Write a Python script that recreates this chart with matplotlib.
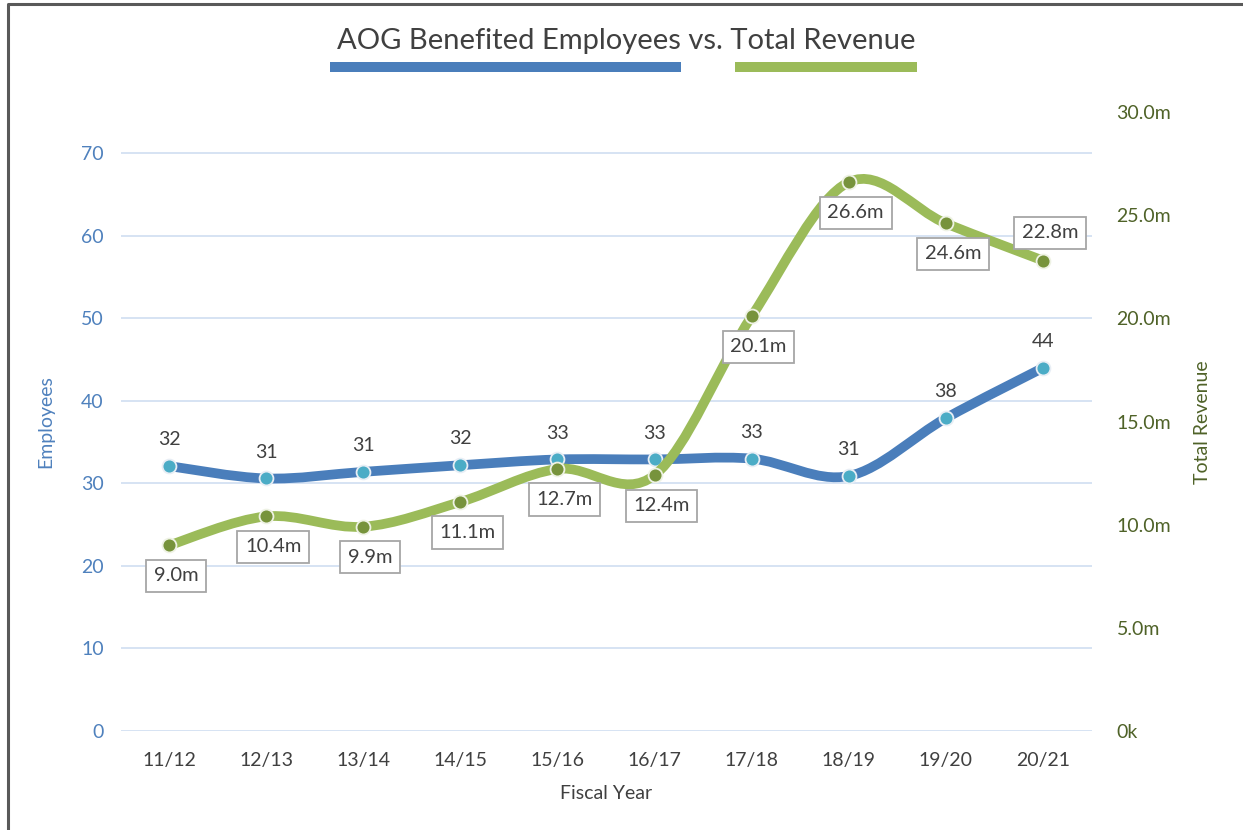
import numpy as np
import matplotlib
matplotlib.use('Agg')
import matplotlib.pyplot as plt
from matplotlib.path import Path
from matplotlib.patches import PathPatch, Rectangle
from matplotlib.lines import Line2D
from matplotlib.ticker import FuncFormatter

plt.rcParams['font.family'] = ['Lato', 'DejaVu Sans']

years = ['11/12', '12/13', '13/14', '14/15', '15/16', '16/17', '17/18', '18/19', '19/20', '20/21']
employees = [32.1, 30.6, 31.4, 32.2, 32.9, 32.9, 33.0, 30.9, 37.9, 44.0]
revenue = [9.0, 10.4, 9.9, 11.1, 12.7, 12.4, 20.1, 26.6, 24.6, 22.8]
# where each revenue label sits relative to its point
rev_label_side = ['below', 'below', 'below', 'below', 'below', 'below', 'below', 'below', 'below', 'above']

blue = '#4a7ebb'
blue_marker = '#4bacc6'
green = '#9bbb59'
green_marker = '#77933c'
text_grey = '#404040'
left_col = '#4f81bd'
right_col = '#4f6228'


def smooth_path(xs, ys):
    # excel style smoothed line: bezier segments with catmull-rom control points
    pts = np.column_stack([xs, ys]).astype(float)
    n = len(pts)
    verts = [pts[0]]
    codes = [Path.MOVETO]
    for i in range(n - 1):
        p0 = pts[i - 1] if i > 0 else pts[i]
        p1 = pts[i]
        p2 = pts[i + 1]
        p3 = pts[i + 2] if i + 2 < n else pts[i + 1]
        verts += [p1 + (p2 - p0) / 6, p2 - (p3 - p1) / 6, p2]
        codes += [Path.CURVE4] * 3
    return Path(verts, codes)


fig = plt.figure(figsize=(12.43, 8.3), dpi=100)
ax = fig.add_axes([120.5 / 1243, 99 / 830, 971 / 1243, 619 / 830])
ax2 = ax.twinx()

x = np.arange(len(years))

# employees (left axis)
ax.add_patch(PathPatch(smooth_path(x, employees), facecolor='none', edgecolor=blue,
                       lw=7, capstyle='round', joinstyle='round', zorder=3))
ax.plot(x, employees, 'o', ms=10, mfc=blue_marker, mec='#e8eef5', mew=1.3, zorder=4)
for xi, v in zip(x, employees):
    ax.annotate(f'{v:.0f}', (xi, v), xytext=(0, 19), textcoords='offset points',
                ha='center', va='center', fontsize=14, color=text_grey, zorder=5)

# revenue (right axis)
ax2.add_patch(PathPatch(smooth_path(x, revenue), facecolor='none', edgecolor=green,
                        lw=7, capstyle='round', joinstyle='round', zorder=3))
ax2.plot(x, revenue, 'o', ms=10, mfc=green_marker, mec='#eef2e4', mew=1.3, zorder=4)
for xi, v, side in zip(x, revenue, rev_label_side):
    dy = -22 if side == 'below' else 20
    ax2.annotate(f'{v:.1f}m', (xi, v), xytext=(5, dy), textcoords='offset points',
                 ha='center', va='center', fontsize=14.5, color=text_grey, zorder=6,
                 bbox=dict(boxstyle='square,pad=0.38', fc='white', ec='#a6a6a6', lw=1.3))

ax.set_xlim(-0.5, len(years) - 0.5)
ax.set_ylim(0, 75)
ax.set_yticks(range(0, 71, 10))
ax2.set_ylim(0, 30)
ax2.set_yticks(np.arange(0, 31, 5))
ax2.yaxis.set_major_formatter(FuncFormatter(lambda v, p: '0k' if v == 0 else f'{v:.1f}m'))
ax.set_xticks(x)
ax.set_xticklabels(years)

ax.yaxis.grid(True, color='#d6e3f3', lw=1.4)
ax.set_axisbelow(True)
for a in (ax, ax2):
    for s in a.spines.values():
        s.set_visible(False)
ax.tick_params(axis='y', length=0, pad=12, labelsize=14, labelcolor=left_col)
ax.tick_params(axis='x', length=0, pad=15, labelsize=14, labelcolor=text_grey)
ax2.tick_params(axis='y', length=0, pad=18, labelsize=14, labelcolor=right_col)

fig.text(46 / 1243, 1 - 422 / 830, 'Employees', rotation=90, ha='center', va='center',
         fontsize=14, color=left_col)
fig.text(1202 / 1243, 1 - 422 / 830, 'Total Revenue', rotation=90, ha='center', va='center',
         fontsize=14, color=right_col)
fig.text(606 / 1243, 1 - 793 / 830, 'Fiscal Year', ha='center', va='center',
         fontsize=14, color=text_grey)

# title and the coloured bars under it
fig.text(626 / 1243, 1 - 41 / 830, 'AOG Benefited Employees vs. Total Revenue',
         ha='center', va='center', fontsize=21, color=text_grey)
fig.patches.append(Rectangle((330 / 1243, 1 - 72 / 830), 351 / 1243, 10 / 830,
                             transform=fig.transFigure, color=blue, lw=0))
fig.patches.append(Rectangle((735 / 1243, 1 - 72 / 830), 182 / 1243, 10 / 830,
                             transform=fig.transFigure, color=green, lw=0))

# frame around the chart
fig.lines.append(Line2D([7.5 / 1243, 7.5 / 1243, 1], [0, 1 - 4.5 / 830, 1 - 4.5 / 830],
                        transform=fig.transFigure, color='#595959', lw=2.2))

fig.savefig('out.png', dpi=100)
